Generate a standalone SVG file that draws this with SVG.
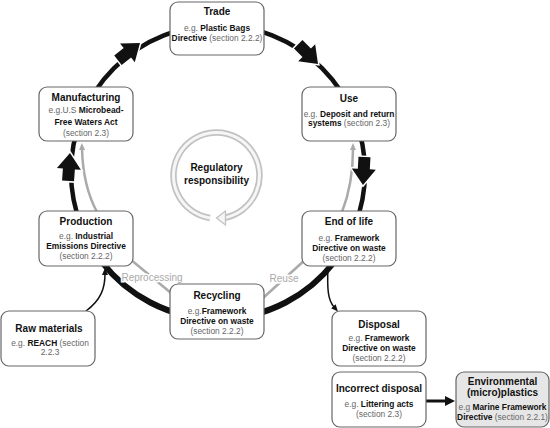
<svg xmlns="http://www.w3.org/2000/svg" width="550" height="428" viewBox="0 0 550 428">
<defs>
<style>
.box{fill:#fff;stroke:#666;stroke-width:1.2}
.env{fill:#e6e6e6}
text{font-family:"Liberation Sans",Arial,sans-serif;text-anchor:middle}
.t{font-size:10px;font-weight:bold;fill:#111}
.b{font-size:8.4px;fill:#666}
.k{font-weight:bold;fill:#111}
.lbl{font-size:10px;fill:#aaa;stroke:#fff;stroke-width:3;paint-order:stroke}
.blk{fill:#111;stroke:#fff;stroke-width:3;paint-order:stroke}
.thin{fill:none;stroke:#111;stroke-width:1.5}
.grey{fill:none;stroke:#aaa;stroke-width:2.5}
</style>
<path id="blk" d="M0,0 L-16,-12 L-16,-6 L-28,-6 L-28,6 L-16,6 L-16,12 Z"/>
<marker id="ab" markerUnits="userSpaceOnUse" markerWidth="7" markerHeight="6" refX="1" refY="3" orient="auto"><path d="M0,0 L7,3 L0,6 Z" fill="#111"/></marker>
<marker id="ag" markerUnits="userSpaceOnUse" markerWidth="7" markerHeight="6" refX="1" refY="3" orient="auto"><path d="M0,0 L7,3 L0,6 Z" fill="#aaa"/></marker>
<marker id="abig" markerUnits="userSpaceOnUse" markerWidth="10" markerHeight="10" refX="1" refY="5" orient="auto"><path d="M0,0 L10,5 L0,10 Z" fill="#111"/></marker>
</defs>
<rect width="550" height="428" fill="#fff"/>
<g id="connectors">
<circle cx="218" cy="172" r="147" fill="none" stroke="#111" stroke-width="4.5"/>
<path d="M333.8,262.5 A147,147 0 0 1 102.2,262.5" fill="none" stroke="#111" stroke-width="6"/>
<path class="grey" d="M130,259 L171,293"/>
<path class="grey" d="M263,298 L306,259"/>
<path class="grey" marker-end="url(#ag)" d="M97,212 Q83,186 82,149"/>
<path class="grey" marker-end="url(#ag)" d="M342,212 Q353,184 353,149"/>
<text class="lbl" x="152" y="281">Reprocessing</text>
<text class="lbl" x="284" y="282">Reuse</text>
<use href="#blk" class="blk" transform="translate(140,43) rotate(-38)"/>
<use href="#blk" class="blk" transform="translate(318,64) rotate(45)"/>
<use href="#blk" class="blk" transform="translate(363,185) rotate(93)"/>
<use href="#blk" class="blk" transform="translate(70,153) rotate(-86)"/>
<path class="thin" marker-end="url(#ab)" d="M86,311 C101,300 105,288 105,274"/>
<path class="thin" marker-end="url(#ab)" d="M328,266 C327,290 328,300 334,307"/>
<path fill="none" stroke="#111" stroke-width="3" marker-end="url(#abig)" d="M426,401 L446,401"/>
</g>
<g id="regulatory">
<path d="M210,218 A43,43 0 1 1 224.7,217.7" fill="none" stroke="#c2c2c2" stroke-width="6.5"/>
<path d="M210,218 A43,43 0 1 1 224.7,217.7" fill="none" stroke="#f6f6f6" stroke-width="3"/>
<path d="M216.5,218 L225.5,211 L225.5,225 Z" fill="#f6f6f6" stroke="#c2c2c2" stroke-width="1.3"/>
<text class="t" x="216.5" y="171">Regulatory</text>
<text class="t" x="216.5" y="184">responsibility</text>
</g>
<g id="trade">
<rect class="box" x="170" y="2" width="94" height="53" rx="8"/>
<text class="t" x="217" y="15">Trade</text>
<text class="b" x="217" y="30.5">e.g. <tspan class="k">Plastic Bags</tspan></text>
<text class="b" x="217" y="41"><tspan class="k">Directive</tspan> (section 2.2.2)</text>
</g>
<g id="manufacturing">
<rect class="box" x="39" y="87" width="94" height="54" rx="8"/>
<text class="t" x="86" y="100.5">Manufacturing</text>
<text class="b" x="86" y="113">e.g.U.S <tspan class="k">Microbead-</tspan></text>
<text class="b" x="86" y="125"><tspan class="k">Free Waters Act</tspan></text>
<text class="b" x="86" y="136">(section 2.3)</text>
</g>
<g id="use">
<rect class="box" x="302" y="87" width="94" height="54" rx="8"/>
<text class="t" x="349" y="102">Use</text>
<text class="b" x="349" y="116.5">e.g. <tspan class="k">Deposit and return</tspan></text>
<text class="b" x="349" y="126"><tspan class="k">systems</tspan> (section 2.3)</text>
</g>
<g id="production">
<rect class="box" x="39" y="211" width="94" height="55" rx="8"/>
<text class="t" x="86" y="225">Production</text>
<text class="b" x="86" y="239">e.g. <tspan class="k">Industrial</tspan></text>
<text class="b" x="86" y="249"><tspan class="k">Emissions Directive</tspan></text>
<text class="b" x="86" y="259">(section 2.2.2)</text>
</g>
<g id="end-of-life">
<rect class="box" x="302" y="211" width="94" height="55" rx="8"/>
<text class="t" x="349" y="225">End of life</text>
<text class="b" x="349" y="240.5">e.g. <tspan class="k">Framework</tspan></text>
<text class="b" x="349" y="250.5"><tspan class="k">Directive on waste</tspan></text>
<text class="b" x="349" y="260.5">(section 2.2.2)</text>
</g>
<g id="recycling">
<rect class="box" x="170" y="284" width="94" height="55" rx="8"/>
<text class="t" x="217" y="299">Recycling</text>
<text class="b" x="217" y="314">e.g.<tspan class="k">Framework</tspan></text>
<text class="b" x="217" y="323.5"><tspan class="k">Directive on waste</tspan></text>
<text class="b" x="217" y="333.5">(section 2.2.2)</text>
</g>
<g id="raw-materials">
<rect class="box" x="1" y="311" width="94" height="55" rx="8"/>
<text class="t" x="49" y="331.5">Raw materials</text>
<text class="b" x="50" y="345.5">e.g. <tspan class="k">REACH</tspan> (section</text>
<text class="b" x="50" y="354.5">2.2.3</text>
</g>
<g id="disposal">
<rect class="box" x="332" y="311" width="94" height="55" rx="8"/>
<text class="t" x="379" y="327.5">Disposal</text>
<text class="b" x="379" y="341">e.g. <tspan class="k">Framework</tspan></text>
<text class="b" x="379" y="350.5"><tspan class="k">Directive on waste</tspan></text>
<text class="b" x="379" y="360.5">(section 2.2.2)</text>
</g>
<g id="incorrect-disposal">
<rect class="box" x="332" y="372" width="94" height="55" rx="8"/>
<text class="t" x="379" y="391.5">Incorrect disposal</text>
<text class="b" x="379" y="406.5">e.g. <tspan class="k">Littering acts</tspan></text>
<text class="b" x="379" y="416.5">(section 2.3)</text>
</g>
<g id="environmental">
<rect class="box env" x="456" y="372" width="93" height="55" rx="8"/>
<text class="t" x="502.5" y="384.5">Environmental</text>
<text class="t" x="502.5" y="396">(micro)plastics</text>
<text class="b" x="502.5" y="410">e.g <tspan class="k">Marine Framework</tspan></text>
<text class="b" x="502.5" y="419.5"><tspan class="k">Directive</tspan> (section 2.2.1)</text>
</g>
</svg>
